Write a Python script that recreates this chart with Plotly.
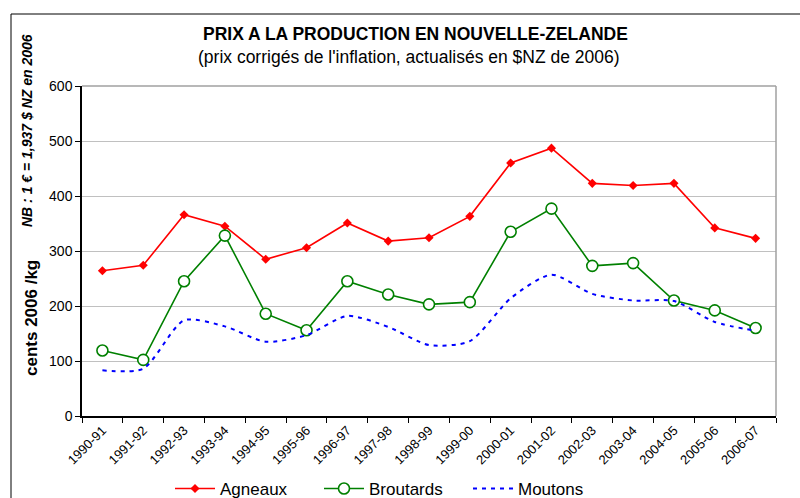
import plotly.graph_objects as go

categories = ["1990-91", "1991-92", "1992-93", "1993-94", "1994-95", "1995-96",
              "1996-97", "1997-98", "1998-99", "1999-00", "2000-01", "2001-02",
              "2002-03", "2003-04", "2004-05", "2005-06", "2006-07"]
agneaux = [264, 274, 366, 345, 285, 306, 351, 318, 324, 363, 460, 487, 423, 419, 423, 342, 323]
broutards = [119, 102, 245, 328, 186, 156, 245, 221, 203, 207, 335, 377, 273, 278, 210, 192, 160]
moutons = [83, 86, 174, 163, 135, 147, 182, 162, 129, 136, 214, 257, 222, 210, 209, 171, 155]
y_ticks = [0, 100, 200, 300, 400, 500, 600]

FONT = "Liberation Sans, Arial, sans-serif"

fig = go.Figure()
fig.add_trace(go.Scatter(
    x=categories, y=agneaux, name="Agneaux", mode="lines+markers",
    line=dict(color="#FF0000", width=1.6),
    marker=dict(symbol="diamond", size=7, color="#FF0000")))
fig.add_trace(go.Scatter(
    x=categories, y=broutards, name="Broutards", mode="lines+markers",
    line=dict(color="#008000", width=1.6),
    marker=dict(symbol="circle", size=11, color="white",
                line=dict(color="#008000", width=1.6))))
fig.add_trace(go.Scatter(
    x=categories, y=moutons, name="Moutons", mode="lines",
    line=dict(color="#0000FF", width=2, dash="4px,5px", shape="spline", smoothing=0.7)))

L, R, T, B = 82, 24, 86, 82
W, H = 800, 498
pw = W - L - R
ph = H - T - B

def px(x):
    return (x - L) / pw

def py(y):
    return (H - B - y) / ph

fig.update_layout(
    width=W, height=H,
    margin=dict(l=L, r=R, t=T, b=B, autoexpand=False),
    paper_bgcolor="white", plot_bgcolor="white",
    font=dict(family=FONT, color="black", size=12),
    showlegend=True,
    legend=dict(orientation="h", x=px(170), xanchor="left", y=py(471), yanchor="top",
                font=dict(size=17, family=FONT), bgcolor="rgba(0,0,0,0)",
                itemwidth=40, tracegroupgap=0, entrywidth=94, entrywidthmode="pixels"),
    xaxis=dict(type="category", range=[-0.5, 16.5], tickson="boundaries",
               ticks="outside", ticklen=5, tickcolor="black", tickwidth=1,
               showline=True, linecolor="black", linewidth=1.5,
               showgrid=False, tickangle=-45, tickfont=dict(size=13, family=FONT),
               zeroline=False, fixedrange=True),
    yaxis=dict(range=[0, 600], tickvals=y_ticks, ticks="outside", ticklen=5,
               tickcolor="black", showline=True, linecolor="black", linewidth=1.5,
               showgrid=True, gridcolor="#C0C0C0", gridwidth=1,
               zeroline=False, tickfont=dict(size=14, family=FONT), fixedrange=True),
    shapes=[
        dict(type="rect", xref="paper", yref="paper", x0=px(11), x1=px(820),
             y0=py(520), y1=py(14), line=dict(color="black", width=1), layer="below"),
        dict(type="line", xref="paper", yref="paper", x0=0, x1=1, y0=1, y1=1,
             line=dict(color="#A0A0A0", width=1.5)),
        dict(type="line", xref="paper", yref="paper", x0=1, x1=1, y0=0, y1=1,
             line=dict(color="#A0A0A0", width=1.5)),
    ],
    annotations=[
        dict(text="<b>PRIX A LA PRODUCTION EN NOUVELLE-ZELANDE</b>", xref="paper", yref="paper",
             x=px(415), y=py(34), xanchor="center", yanchor="middle", showarrow=False,
             font=dict(size=17.5, family=FONT)),
        dict(text="(prix corrigés de l'inflation, actualisés en $NZ de 2006)", xref="paper", yref="paper",
             x=px(409), y=py(57), xanchor="center", yanchor="middle", showarrow=False,
             font=dict(size=17.5, family=FONT)),
        dict(text="<b>cents 2006 /kg</b>", xref="paper", yref="paper",
             x=px(31), y=py(318), xanchor="center", yanchor="middle", showarrow=False,
             textangle=-90, font=dict(size=17, family=FONT)),
        dict(text="<b><i>NB : 1 € = 1,937 $ NZ en 2006</i></b>", xref="paper", yref="paper",
             x=px(27), y=py(131), xanchor="center", yanchor="middle", showarrow=False,
             textangle=-90, font=dict(size=14, family=FONT)),
    ],
)

fig.write_html("out.html", config={"displayModeBar": False},
               post_script="document.body.style.margin='0';document.body.style.overflow='hidden';")
